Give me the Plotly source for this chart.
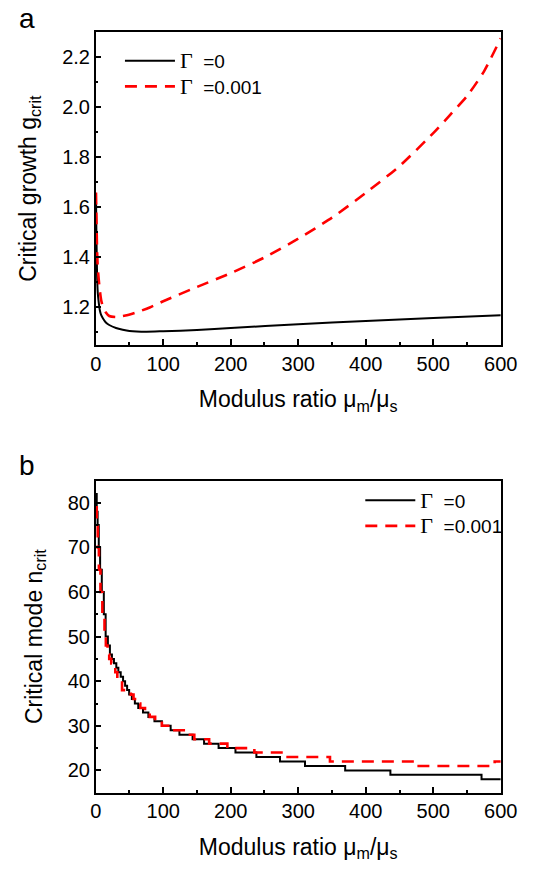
import plotly.graph_objects as go

# ---------------- data ----------------
# Panel a: critical growth g_crit vs modulus ratio
ratio_a_gamma0 = [0.5, 1, 2, 3, 4, 6, 8, 11, 15, 20, 30, 40, 50, 75, 100, 150, 200, 300, 400, 500, 600]
gcrit_gamma0 = [1.62, 1.50, 1.33, 1.26, 1.23, 1.19, 1.17, 1.155, 1.14, 1.13, 1.118, 1.111, 1.106, 1.103,
                1.105, 1.110, 1.118, 1.133, 1.146, 1.158, 1.169]

ratio_a_gamma1 = [0.4, 1, 2, 3, 4.5, 6, 8, 11, 15, 20, 30, 44, 62, 80, 100, 150, 200, 250, 300, 350,
                  400, 450, 500, 525, 550, 575, 600]
gcrit_gamma1 = [1.66, 1.56, 1.43, 1.36, 1.31, 1.27, 1.23, 1.20, 1.18, 1.166, 1.162, 1.168, 1.182, 1.200,
                1.225, 1.282, 1.337, 1.40, 1.475, 1.559, 1.658, 1.765, 1.897, 1.97, 2.045, 2.143, 2.276]

# Panel b: critical mode n_crit vs modulus ratio (step data: ratio where each mode starts)
ratio_b_gamma0 = [0.3, 1.5, 2.8, 4.5, 6.5, 9, 12, 14.7, 18, 21, 24, 27, 30.5, 33.5, 37, 40.5, 43.5, 46.5,
                  49.5, 53.5, 58, 63, 70, 78, 87, 98, 111, 124, 143.5, 160.5, 182, 207, 238, 273, 310,
                  369.5, 436.5, 571.5, 600]
ncrit_gamma0 = [82, 78, 75, 70, 65, 60, 55, 50, 48, 46, 45, 44, 43, 42, 41, 40, 39, 38, 37, 36, 35, 34,
                33, 32, 31, 30, 29, 28, 27, 26, 25, 24, 23, 22, 21, 20, 19, 18, 18]

ratio_b_gamma1 = [0.5, 1.5, 3, 4.7, 7, 9.8, 13, 15, 17.5, 20, 23, 26, 29, 32, 35, 39, 52, 56, 61, 66,
                  73, 80, 88, 98, 112, 137, 146, 168, 195, 235, 279, 347, 476, 591, 600]
ncrit_gamma1 = [79, 75, 70, 65, 60, 55, 50, 48, 46, 45, 44, 43, 42, 41, 40, 38, 37, 36, 35, 34, 33, 32,
                31, 30, 29, 28, 27, 26, 25, 24, 23, 22, 21, 22, 22]

x_ticks = [0, 100, 200, 300, 400, 500, 600]

# ---------------- styling ----------------
W, H = 542, 869
FONT = "Liberation Sans, Arial, sans-serif"
BLACK = "#000000"
RED = "#ff0000"
DASH = "12px,8px"

GAMMA = '<span style="font-family:Liberation Serif, Times New Roman, serif;font-size:22px">Γ</span>'
name0 = GAMMA + "\u00a0\u00a0=0"
name1 = GAMMA + "\u00a0\u00a0=0.001"

fig = go.Figure()

fig.add_trace(go.Scatter(x=ratio_a_gamma0, y=gcrit_gamma0, mode="lines", name=name0,
                         line=dict(color=BLACK, width=2, shape="spline", smoothing=0.6),
                         xaxis="x", yaxis="y", legend="legend"))
fig.add_trace(go.Scatter(x=ratio_a_gamma1, y=gcrit_gamma1, mode="lines", name=name1,
                         line=dict(color=RED, width=2.6, dash=DASH, shape="spline", smoothing=0.6),
                         xaxis="x", yaxis="y", legend="legend2"))
fig.add_trace(go.Scatter(x=ratio_b_gamma0, y=ncrit_gamma0, mode="lines", name=name0,
                         line=dict(color=BLACK, width=2, shape="hv"),
                         xaxis="x2", yaxis="y2", legend="legend3"))
fig.add_trace(go.Scatter(x=ratio_b_gamma1, y=ncrit_gamma1, mode="lines", name=name1,
                         line=dict(color=RED, width=2.6, dash=DASH, shape="hv"),
                         xaxis="x2", yaxis="y2", legend="legend4"))

x_dom = [93.7 / W, 516.7 / W]
ya_dom = [1 - 345 / H, 1 - 32.3 / H]
yb_dom = [1 - 792.7 / H, 1 - 480.5 / H]

def axis_common():
    return dict(showline=True, linecolor=BLACK, linewidth=1.5, mirror=True,
                ticks="inside", ticklen=6, tickwidth=1.5, tickcolor=BLACK,
                showgrid=False, zeroline=False,
                tickfont=dict(family=FONT, size=20, color=BLACK),
                title_font=dict(family=FONT, size=23, color=BLACK))

def legend_box(x_px, y_px):
    return dict(x=x_px / W, y=1 - y_px / H, xanchor="left", yanchor="middle",
                bgcolor="rgba(0,0,0,0)", borderwidth=0, itemwidth=50,
                font=dict(family=FONT, size=19, color=BLACK))

xtitle = "Modulus ratio μ<sub>m</sub>/μ<sub>s</sub>"

fig.update_layout(
    width=W, height=H,
    margin=dict(l=0, r=0, t=0, b=0),
    paper_bgcolor="white", plot_bgcolor="white",
    font=dict(family=FONT, size=20, color=BLACK),
    xaxis=dict(**axis_common(), domain=x_dom, anchor="y", range=[0, 600],
               tickvals=x_ticks, minor=dict(ticks="inside", ticklen=3, tickwidth=1.5,
                                            tickcolor=BLACK, dtick=50, tick0=0),
               title=dict(text=xtitle, standoff=17)),
    yaxis=dict(**axis_common(), domain=ya_dom, anchor="x", range=[1.05, 2.3],
               dtick=0.2, tick0=1.2, tickformat=".1f",
               minor=dict(ticks="inside", ticklen=3, tickwidth=1.5, tickcolor=BLACK, dtick=0.1, tick0=1.1),
               title=dict(text="Critical growth g<sub>crit</sub>", standoff=19)),
    xaxis2=dict(**axis_common(), domain=x_dom, anchor="y2", range=[0, 600],
                tickvals=x_ticks, minor=dict(ticks="inside", ticklen=3, tickwidth=1.5,
                                             tickcolor=BLACK, dtick=50, tick0=0),
                title=dict(text=xtitle, standoff=17)),
    yaxis2=dict(**axis_common(), domain=yb_dom, anchor="x2", range=[15, 85],
                dtick=10, tick0=20,
                minor=dict(ticks="inside", ticklen=3, tickwidth=1.5, tickcolor=BLACK, dtick=5, tick0=15),
                title=dict(text="Critical mode n<sub>crit</sub>", standoff=19)),
    legend=legend_box(119, 61),
    legend2=legend_box(119, 86.5),
    legend3=legend_box(370, 500.5),
    legend4=legend_box(370, 526),
    showlegend=True,
    annotations=[
        dict(text="a", x=22 / W, y=1 - 18 / H, xref="paper", yref="paper", showarrow=False,
             xanchor="center", yanchor="middle", font=dict(family=FONT, size=28, color=BLACK)),
        dict(text="b", x=22 / W, y=1 - 466 / H, xref="paper", yref="paper", showarrow=False,
             xanchor="center", yanchor="middle", font=dict(family=FONT, size=28, color=BLACK)),
    ],
)

fig.write_html("out.html", config={"displayModeBar": False},
               post_script="document.body.style.margin='0';document.body.style.overflow='hidden';")
